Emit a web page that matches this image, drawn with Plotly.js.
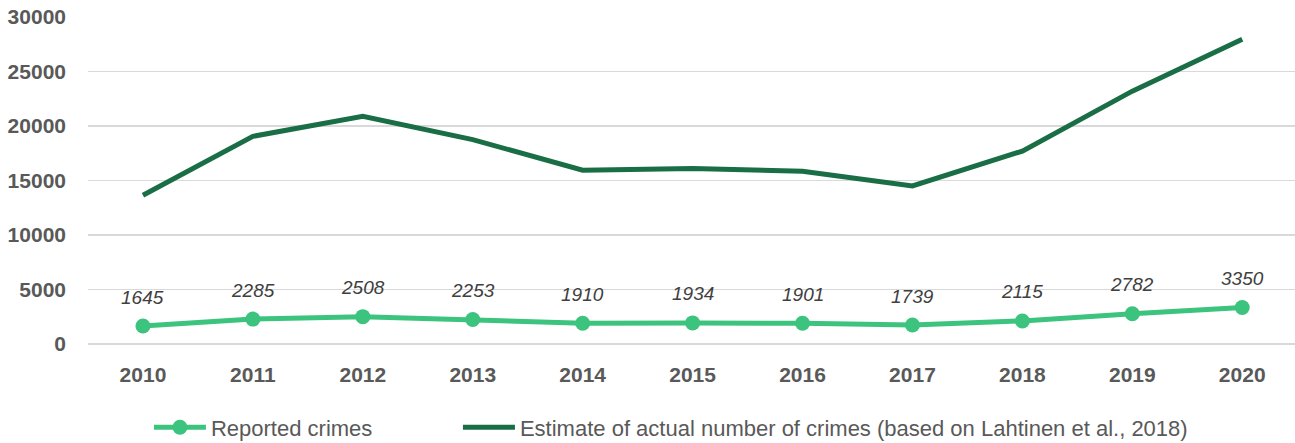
<!DOCTYPE html>
<html>
<head>
<meta charset="utf-8">
<script src="https://cdn.plot.ly/plotly-3.0.1.min.js"></script>
<style>
  html, body { margin: 0; padding: 0; background: #ffffff; }
  #chart { width: 1295px; height: 443px; }
</style>
</head>
<body>
<div id="chart"></div>
<script>
const years = ["2010","2011","2012","2013","2014","2015","2016","2017","2018","2019","2020"];
const reportedCrimes = [1645, 2285, 2508, 2253, 1910, 1934, 1901, 1739, 2115, 2782, 3350];
const estimatedCrimes = [13650, 19050, 20900, 18750, 15950, 16100, 15850, 14500, 17700, 23200, 27950];
const seriesNames = ["Reported crimes", "Estimate of actual number of crimes (based on Lahtinen et al., 2018)"];
const yTicks = [0, 5000, 10000, 15000, 20000, 25000, 30000];

const lightGreen = "#3CC47E";
const darkGreen = "#1A6E45";
const axisGrey = "#595959";
const fontFam = "Liberation Sans, Arial, sans-serif";

const traces = [
  {
    type: "scatter", mode: "lines+markers", name: seriesNames[0],
    x: years, y: reportedCrimes,
    line: { color: lightGreen, width: 5 },
    marker: { color: lightGreen, size: 15 },
    legend: "legend",
    hoverinfo: "skip"
  },
  {
    type: "scatter", mode: "lines", name: seriesNames[1],
    x: years, y: estimatedCrimes,
    line: { color: darkGreen, width: 5 },
    legend: "legend2",
    hoverinfo: "skip"
  }
];

// category axis: annotations placed by category index
const annotations = years.map((yr, i) => ({
  x: i, y: reportedCrimes[i], xref: "x", yref: "y",
  text: String(reportedCrimes[i]), showarrow: false, yshift: 29,
  font: { family: fontFam, size: 19, color: "#404040", style: "italic" }
}));

const legendFont = { family: fontFam, size: 22, color: axisGrey };

const layout = {
  width: 1295, height: 443,
  margin: { l: 88, r: 0, t: 17, b: 99, pad: 0, autoexpand: false },
  paper_bgcolor: "#ffffff", plot_bgcolor: "#ffffff",
  showlegend: true,
  legend: {
    orientation: "h", x: 0.0505, xanchor: "left", y: -0.255, yanchor: "middle",
    itemwidth: 52, font: legendFont, bgcolor: "rgba(0,0,0,0)"
  },
  legend2: {
    orientation: "h", x: 0.3065, xanchor: "left", y: -0.255, yanchor: "middle",
    itemwidth: 52, font: legendFont, bgcolor: "rgba(0,0,0,0)"
  },
  xaxis: {
    type: "category", range: [-0.5, 10.48],
    showgrid: false, zeroline: false, showline: false, ticks: "",
    tickfont: { family: fontFam, size: 21, color: axisGrey, weight: "bold" },
    ticklabelstandoff: 16, fixedrange: true
  },
  yaxis: {
    range: [0, 30000], tickvals: yTicks, ticktext: yTicks.map(String),
    showgrid: true, gridcolor: "#D9D9D9", gridwidth: 1.5,
    zeroline: true, zerolinecolor: "#D9D9D9", zerolinewidth: 1.5,
    showline: false, ticks: "",
    tickfont: { family: fontFam, size: 21, color: axisGrey, weight: "bold" },
    ticklabelstandoff: 21, fixedrange: true
  },
  annotations: annotations
};

Plotly.newPlot("chart", traces, layout, { staticPlot: true, displayModeBar: false });
</script>
</body>
</html>
